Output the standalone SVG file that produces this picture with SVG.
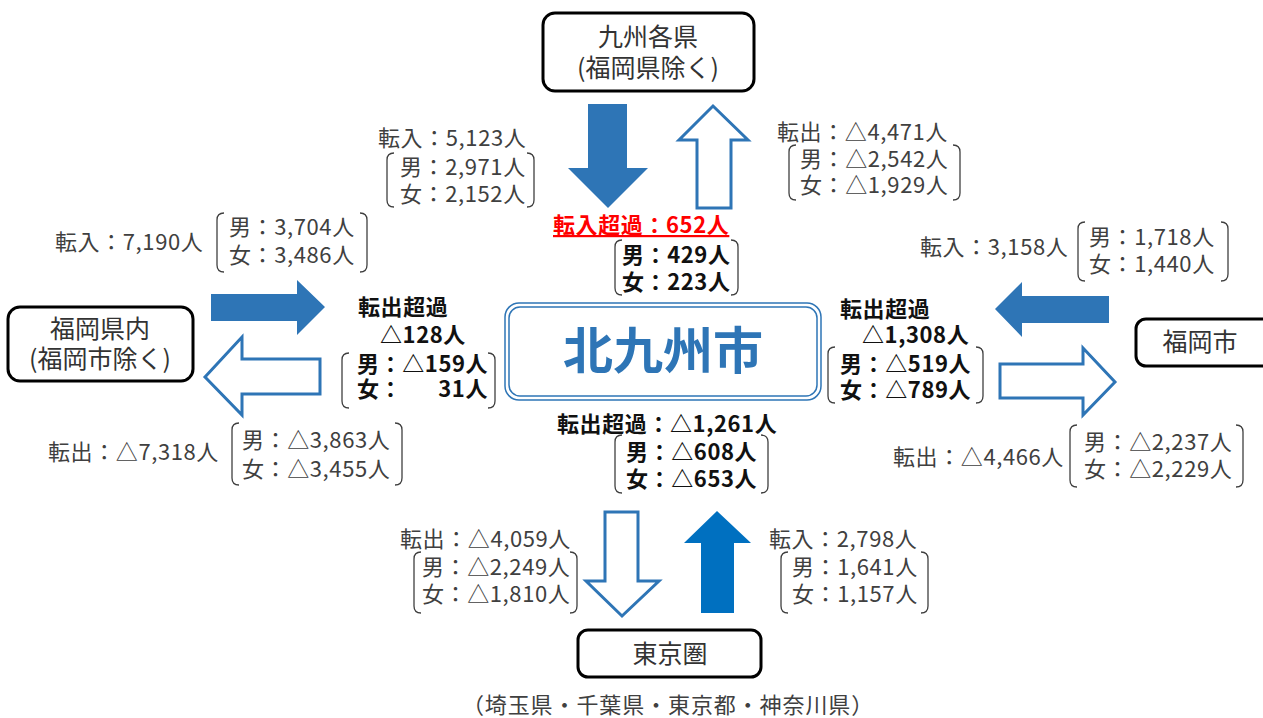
<svg xmlns="http://www.w3.org/2000/svg" width="1263" height="718" viewBox="0 0 1263 718">
<style>
.lbl{font-family:"Noto Sans CJK JP","Noto Sans",sans-serif;font-size:22px;letter-spacing:0.6px;fill:#404040}
.bld{font-family:"Noto Sans CJK JP","Noto Sans",sans-serif;font-size:22px;letter-spacing:0.6px;font-weight:bold;fill:#111}
.red{font-family:"Noto Sans CJK JP","Noto Sans",sans-serif;font-size:22px;letter-spacing:0.6px;font-weight:bold;fill:#FF0000;text-decoration:underline}
.nt{font-family:"Noto Sans CJK JP","Noto Sans",sans-serif;font-size:25px;fill:#333;text-anchor:middle}
.box{fill:#fff;stroke:#000;stroke-width:3}
.br{fill:none;stroke:#404040;stroke-width:1.3}
.af{fill:#2E75B6;stroke:none}
.ao{fill:#fff;stroke:#2E75B6;stroke-width:3;stroke-linejoin:miter}
</style>
<rect width="1263" height="718" fill="#fff"/>

<g id="connectors">
  <polygon class="af" points="588,104 627,104 627,168 648,168 608,208 568,168 588,168"/>
  <polygon class="ao" points="713,106 748,140 731,140 731,208 697,208 697,140 679,140"/>
  <polygon class="af" points="211,294 297,294 297,280 325,307 297,335 297,321 211,321"/>
  <polygon class="ao" points="205,377 242,337 242,359 320,359 320,394 242,394 242,415"/>
  <polygon class="af" points="995,309 1022,282 1022,296 1109,296 1109,323 1022,323 1022,337"/>
  <polygon class="ao" points="1000,364 1083,364 1083,348 1115,382 1083,415 1083,398 1000,398"/>
  <polygon class="ao" points="605,512 638,512 638,581 659,581 622,616 586,581 605,581"/>
  <polygon fill="#0070C0" points="717,511 751,543 734,543 734,613 701,613 701,543 684,543"/>
</g>

<g id="node-kyushu">
  <rect class="box" x="543" y="13" width="211" height="78" rx="12"/>
  <text class="nt" x="648" y="46">九州各県</text>
  <text class="nt" x="648" y="77">(福岡県除く)</text>
</g>
<g id="node-fukuokaken">
  <rect class="box" x="8" y="307" width="185" height="74" rx="12"/>
  <text class="nt" x="100" y="338">福岡県内</text>
  <text class="nt" x="100" y="368">(福岡市除く)</text>
</g>
<g id="node-fukuokashi">
  <rect class="box" x="1136" y="319" width="150" height="47" rx="10"/>
  <text class="nt" x="1200" y="351">福岡市</text>
</g>
<g id="node-tokyo">
  <rect class="box" x="578" y="630" width="183" height="47" rx="10"/>
  <text class="nt" x="670" y="663">東京圏</text>
  <text class="lbl" x="668" y="713" text-anchor="middle" style="letter-spacing:0.9px">（埼玉県・千葉県・東京都・神奈川県）</text>
</g>
<g id="node-kitakyushu">
  <rect x="505" y="303" width="316" height="97" rx="14" fill="#fff" stroke="#2E75B6" stroke-width="1.5"/>
  <rect x="509" y="307" width="308" height="89" rx="11" fill="none" stroke="#2E75B6" stroke-width="1.5"/>
  <text x="663" y="369" text-anchor="middle" font-family="Noto Sans CJK JP, sans-serif" font-size="50" font-weight="bold" fill="#2E75B6">北九州市</text>
</g>

<g id="label-kyushu-in">
  <text class="lbl" x="378" y="146">転入：5,123人</text>
  <path class="br" d="M394,153 Q387,153 387,160 L387,200 Q387,207 394,207 M527,153 Q534,153 534,160 L534,200 Q534,207 527,207"/>
  <text class="lbl" x="400" y="175">男：2,971人</text>
  <text class="lbl" x="400" y="202">女：2,152人</text>
</g>
<g id="label-kyushu-out">
  <text class="lbl" x="777" y="140">転出：△4,471人</text>
  <path class="br" d="M796,145 Q789,145 789,152 L789,193 Q789,200 796,200 M953,145 Q960,145 960,152 L960,193 Q960,200 953,200"/>
  <text class="lbl" x="800" y="167">男：△2,542人</text>
  <text class="lbl" x="800" y="193">女：△1,929人</text>
</g>
<g id="label-kyushu-net">
  <text class="red" x="553" y="233">転入超過：652人</text>
  <path class="br" d="M622,240 Q615,240 615,247 L615,288 Q615,295 622,295 M731,240 Q738,240 738,247 L738,288 Q738,295 731,295"/>
  <text class="bld" x="622" y="263">男：429人</text>
  <text class="bld" x="622" y="290">女：223人</text>
</g>

<g id="label-ken-in">
  <text class="lbl" x="55" y="250">転入：7,190人</text>
  <path class="br" d="M224,213 Q217,213 217,220 L217,265 Q217,272 224,272 M360,213 Q367,213 367,220 L367,265 Q367,272 360,272"/>
  <text class="lbl" x="229" y="235">男：3,704人</text>
  <text class="lbl" x="229" y="263">女：3,486人</text>
</g>
<g id="label-ken-out">
  <text class="lbl" x="48" y="460">転出：△7,318人</text>
  <path class="br" d="M239,423 Q232,423 232,430 L232,478 Q232,485 239,485 M395,423 Q402,423 402,430 L402,478 Q402,485 395,485"/>
  <text class="lbl" x="242" y="448">男：△3,863人</text>
  <text class="lbl" x="242" y="477">女：△3,455人</text>
</g>
<g id="label-ken-net">
  <text class="bld" x="358" y="315">転出超過</text>
  <text class="bld" x="380" y="343">△128人</text>
  <path class="br" d="M349,353 Q342,353 342,360 L342,401 Q342,408 349,408 M488,353 Q495,353 495,360 L495,401 Q495,408 488,408"/>
  <text class="bld" x="357" y="372">男：△159人</text>
  <text class="bld" x="357" y="397">女：</text>
  <text class="bld" x="488" y="397" text-anchor="end">31人</text>
</g>

<g id="label-shi-in">
  <text class="lbl" x="920" y="255">転入：3,158人</text>
  <path class="br" d="M1085,222 Q1078,222 1078,229 L1078,274 Q1078,281 1085,281 M1221,222 Q1228,222 1228,229 L1228,274 Q1228,281 1221,281"/>
  <text class="lbl" x="1089" y="245">男：1,718人</text>
  <text class="lbl" x="1089" y="272">女：1,440人</text>
</g>
<g id="label-shi-out">
  <text class="lbl" x="893" y="465">転出：△4,466人</text>
  <path class="br" d="M1077,425 Q1070,425 1070,432 L1070,480 Q1070,487 1077,487 M1236,425 Q1243,425 1243,432 L1243,480 Q1243,487 1236,487"/>
  <text class="lbl" x="1084" y="450">男：△2,237人</text>
  <text class="lbl" x="1084" y="477">女：△2,229人</text>
</g>
<g id="label-shi-net">
  <text class="bld" x="840" y="317">転出超過</text>
  <text class="bld" x="862" y="343">△1,308人</text>
  <path class="br" d="M835,347 Q828,347 828,354 L828,396 Q828,403 835,403 M976,347 Q983,347 983,354 L983,396 Q983,403 976,403"/>
  <text class="bld" x="840" y="372">男：△519人</text>
  <text class="bld" x="840" y="398">女：△789人</text>
</g>

<g id="label-tokyo-net">
  <text class="bld" x="557" y="432">転出超過：△1,261人</text>
  <path class="br" d="M622,435 Q615,435 615,442 L615,486 Q615,493 622,493 M761,435 Q768,435 768,442 L768,486 Q768,493 761,493"/>
  <text class="bld" x="626" y="460">男：△608人</text>
  <text class="bld" x="626" y="487">女：△653人</text>
</g>
<g id="label-tokyo-out">
  <text class="lbl" x="400" y="547">転出：△4,059人</text>
  <path class="br" d="M421,552 Q414,552 414,559 L414,606 Q414,613 421,613 M570,552 Q577,552 577,559 L577,606 Q577,613 570,613"/>
  <text class="lbl" x="422" y="575">男：△2,249人</text>
  <text class="lbl" x="422" y="602">女：△1,810人</text>
</g>
<g id="label-tokyo-in">
  <text class="lbl" x="769" y="547">転入：2,798人</text>
  <path class="br" d="M788,552 Q781,552 781,559 L781,606 Q781,613 788,613 M921,552 Q928,552 928,559 L928,606 Q928,613 921,613"/>
  <text class="lbl" x="792" y="575">男：1,641人</text>
  <text class="lbl" x="792" y="602">女：1,157人</text>
</g>
</svg>
